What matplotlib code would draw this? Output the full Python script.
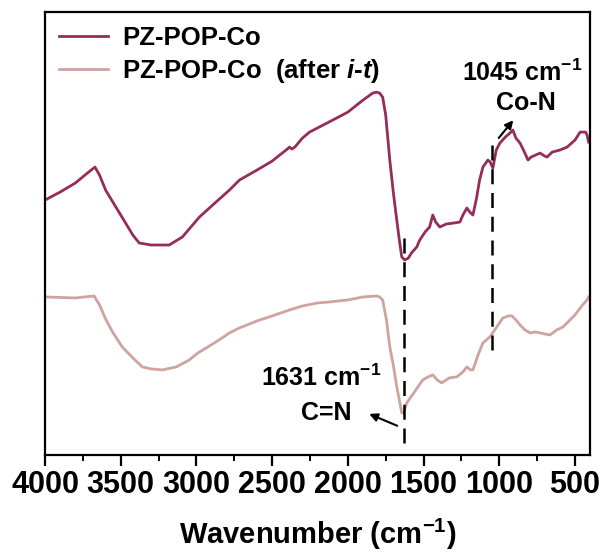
import numpy as np
import matplotlib
matplotlib.use('Agg')
from matplotlib import pyplot as plt
from matplotlib.ticker import MultipleLocator

plt.rcParams['font.family'] = ['Liberation Sans', 'DejaVu Sans']
plt.rcParams['font.weight'] = 'bold'
plt.rcParams['axes.labelweight'] = 'bold'
plt.rcParams['mathtext.fontset'] = 'custom'
plt.rcParams['mathtext.rm'] = 'Liberation Sans:bold'
plt.rcParams['mathtext.it'] = 'Liberation Sans:italic:bold'
plt.rcParams['mathtext.default'] = 'regular'

# FTIR spectra (arbitrary units)
wn_co = [4000, 3900, 3800, 3720, 3670, 3640, 3600, 3500, 3420, 3378, 3300, 3180, 3093,
         2980, 2900, 2782, 2716, 2600, 2500, 2400, 2385, 2370, 2350, 2300, 2253, 2100,
         2000, 1900, 1836, 1810, 1790, 1770, 1750, 1723, 1700, 1677, 1660, 1644, 1624,
         1600, 1580, 1545, 1525, 1490, 1460, 1439, 1420, 1393, 1350, 1300, 1260, 1240,
         1214, 1195, 1174, 1150, 1130, 1108, 1075, 1060, 1042, 1030, 1020, 996, 960, 930,
         910, 890, 863, 840, 810, 790, 760, 731, 700, 685, 650, 600, 552, 500, 466, 430,
         420, 410]
int_co = [255, 263, 272, 282, 288, 280, 265, 240, 220, 212, 210, 210, 218,
          238, 249, 265, 275, 285, 294, 306, 308, 306, 308, 317, 323, 335,
          343, 355, 362, 363, 362, 358, 340, 295, 263, 235, 215, 198, 195,
          197, 202, 208, 215, 223, 228, 240, 233, 228, 231, 232, 233, 240,
          247, 243, 240, 257, 275, 288, 295, 293, 287, 297, 305, 312, 318, 322,
          325, 317, 312, 305, 295, 298, 300, 302, 299, 298, 303, 305, 308, 315, 323, 323,
          320, 313]

wn_it = [4000, 3800, 3676, 3640, 3597, 3550, 3490, 3420, 3358, 3300, 3225, 3133, 3047,
         2990, 2935, 2850, 2782, 2716, 2600, 2500, 2385, 2300, 2200, 2120, 2000, 1900,
         1810, 1790, 1770, 1745, 1723, 1700, 1677, 1660, 1644, 1631, 1611, 1560, 1505,
         1470, 1439, 1410, 1380, 1330, 1280, 1240, 1214, 1190, 1174, 1140, 1108, 1062,
         1030, 976, 940, 916, 890, 863, 830, 797, 760, 700, 665, 620, 579, 500, 450, 420,
         410]
int_it = [158, 157, 159, 150, 135, 122, 108, 97, 88, 86, 85, 88, 95,
          102, 107, 115, 122, 127, 134, 139, 145, 149, 152, 153, 155, 158,
          159, 158, 155, 135, 108, 90, 68, 55, 42, 42, 52, 63, 75,
          78, 80, 75, 72, 77, 78, 83, 88, 85, 85, 100, 112, 118,
          125, 137, 139, 139, 135, 130, 125, 122, 123, 121, 120, 125, 128, 140, 150, 155,
          158]

labels = ['PZ-POP-Co', r'PZ-POP-Co  (after $\mathit{i}$-$\mathit{t}$)']
colors = ['#952D5A', '#CFA39F']

fig = plt.figure(figsize=(6.05, 5.54), dpi=100)
ax = fig.add_axes([0.0744, 0.179, 0.901, 0.799])

ax.plot(wn_co, int_co, color=colors[0], lw=2.0, label=labels[0])
ax.plot(wn_it, int_it, color=colors[1], lw=2.0, label=labels[1])

# dashed marker lines
ax.plot([1631, 1631], [12, 218], color='black', lw=1.8, ls=(0, (6, 3.5)))
ax.plot([1045, 1045], [105, 318], color='black', lw=1.8, ls=(0, (6, 3.5)))

ax.text(850, 382, r'1045 cm$^{-1}$', ha='center', va='center', fontsize=18)
ax.text(823, 352, 'Co-N', ha='center', va='center', fontsize=18)
ax.annotate('', xy=(896, 337), xytext=(1015, 315),
            arrowprops=dict(arrowstyle='-|>', color='black', lw=1.5, mutation_scale=12))

ax.text(2173, 77, r'1631 cm$^{-1}$', ha='center', va='center', fontsize=18)
ax.text(2140, 42, 'C=N', ha='center', va='center', fontsize=18)
ax.annotate('', xy=(1876, 42), xytext=(1657, 28),
            arrowprops=dict(arrowstyle='-|>', color='black', lw=1.5, mutation_scale=12))

ax.set_xlim(4000, 400)
ax.set_ylim(0, 443)
ax.xaxis.set_major_locator(MultipleLocator(500))
ax.xaxis.set_minor_locator(MultipleLocator(250))
ax.set_yticks([])
ax.tick_params(axis='x', which='major', direction='out', length=8, width=1.6, labelsize=22, pad=3)
ax.tick_params(axis='x', which='minor', direction='out', length=4, width=1.4)
for s in ax.spines.values():
    s.set_linewidth(1.6)
ax.set_xlabel(r'Wavenumber (cm$^{-1}$)', fontsize=21, labelpad=12)

ax.legend(loc='upper left', frameon=False, fontsize=18.5, handlelength=1.9,
          handletextpad=0.55, labelspacing=0.25, borderaxespad=0.15,
          bbox_to_anchor=(0.0, 1.0))

fig.savefig('out.png', dpi=100)
